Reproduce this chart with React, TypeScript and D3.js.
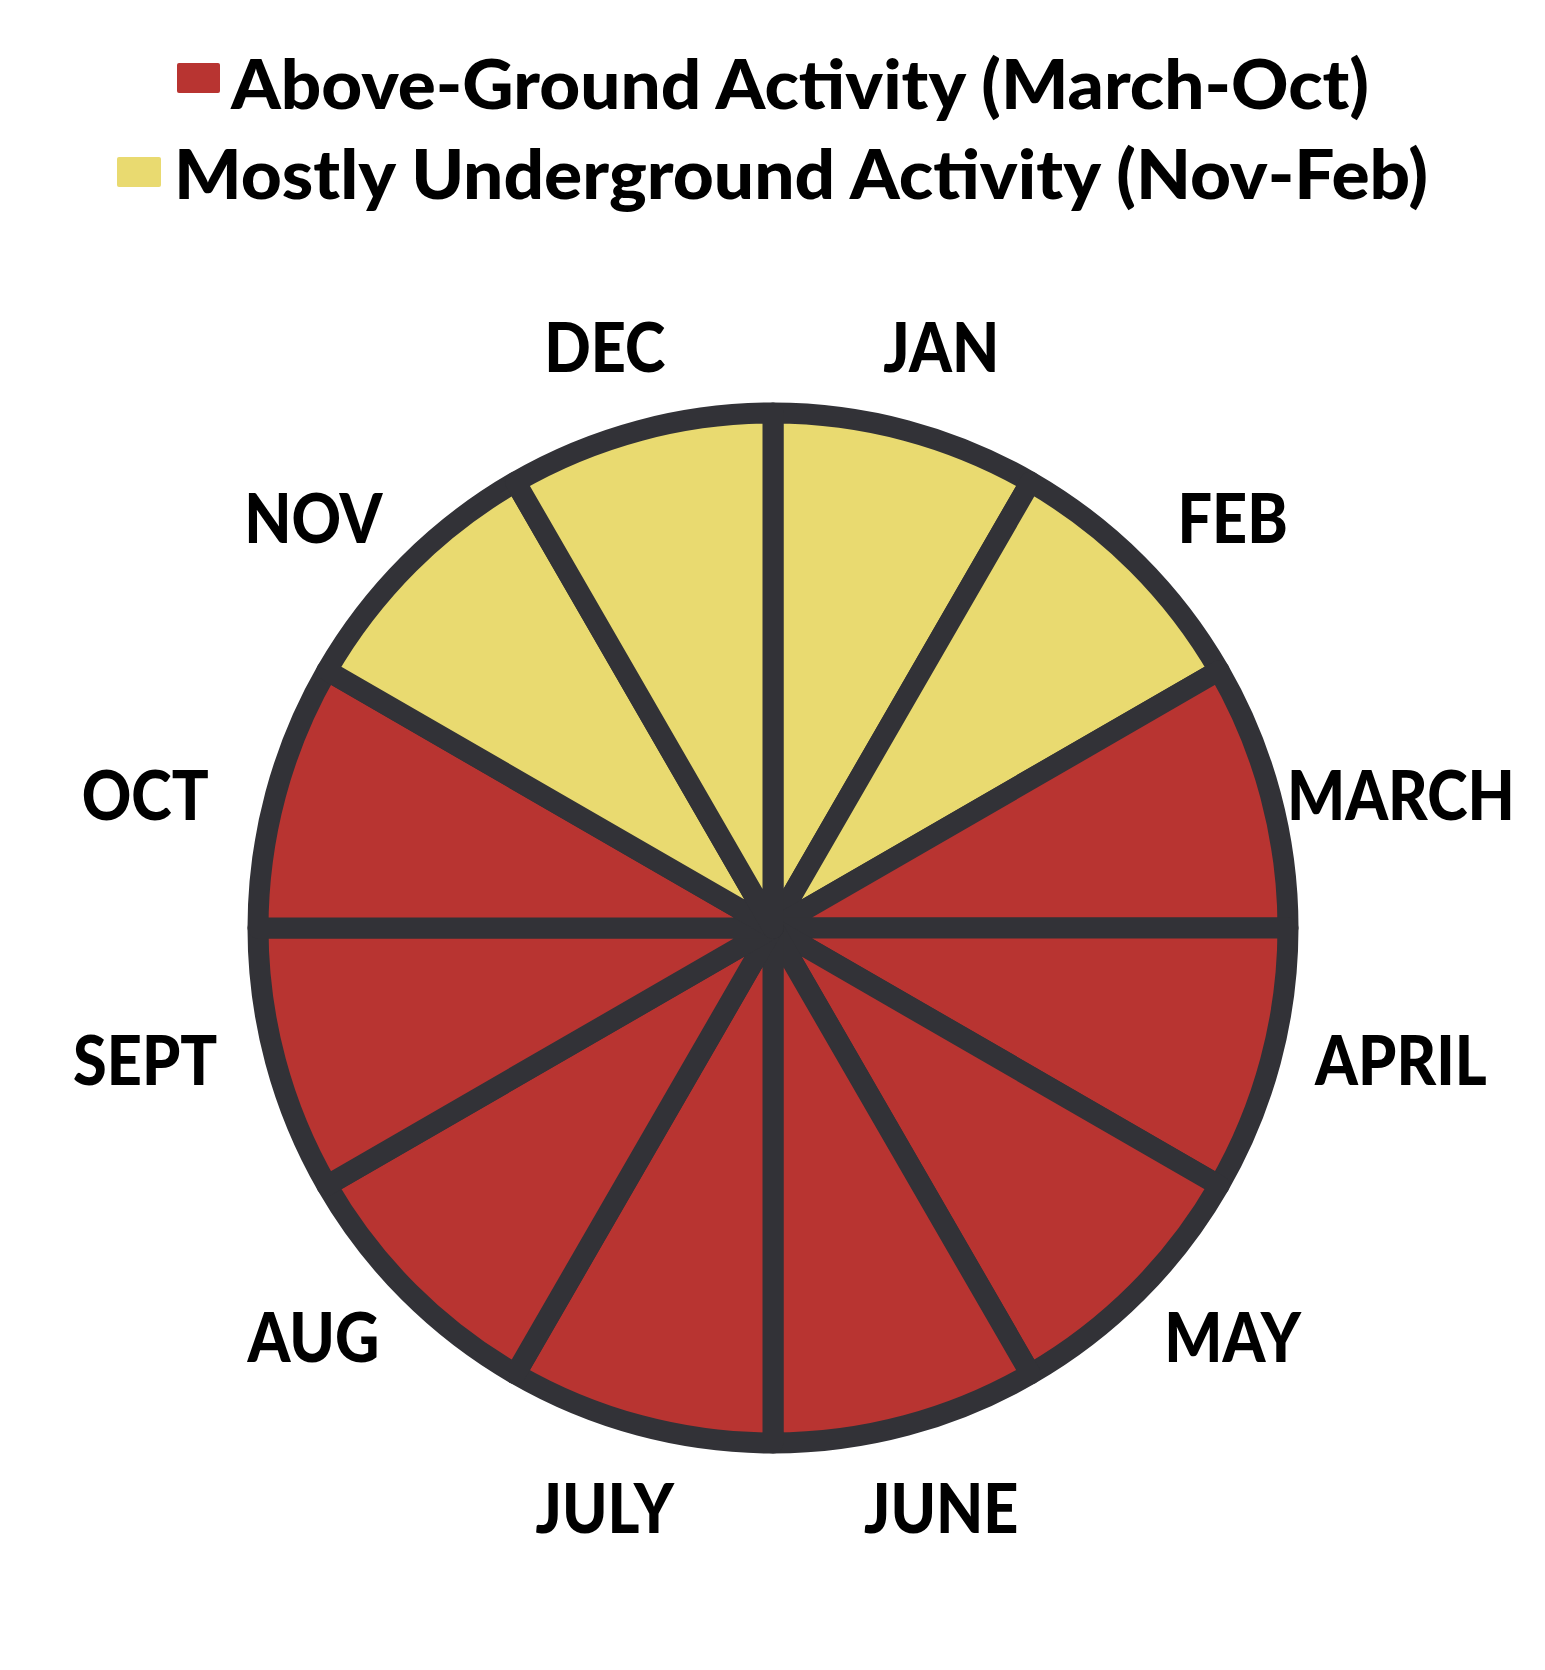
import React, { useEffect, useRef } from 'react';
import * as d3 from 'd3';

// ---- data ----
const months = ['JAN', 'FEB', 'MARCH', 'APRIL', 'MAY', 'JUNE', 'JULY', 'AUG', 'SEPT', 'OCT', 'NOV', 'DEC'];
const monthShare = [1, 1, 1, 1, 1, 1, 1, 1, 1, 1, 1, 1];
const activity = ['under', 'under', 'above', 'above', 'above', 'above', 'above', 'above', 'above', 'above', 'under', 'under'];
const legendKeys = ['above', 'under'];
const legendLabels = ['Above-Ground Activity (March-Oct)', 'Mostly Underground Activity (Nov-Feb)'];

// ---- style ----
const palette: Record<string, string> = { above: '#B83431', under: '#E9DA70' };
const STROKE = '#323237';
const FONT = 'Lato, "Open Sans", sans-serif';

const W = 1545;
const H = 1670;
const CX = 773;
const CY = 928;
const R = 515;
const SW = 21;
const LABEL_RX = 650;
const LABEL_RY = 603;
const LABEL_Y_POW = 1.12;
const FS = 68;
const CAP = 49;
const LABEL_SQUEEZE = 0.9;

export default function App() {
  const ref = useRef<SVGSVGElement | null>(null);

  useEffect(() => {
    const draw = () => {
      const svg = d3.select(ref.current);
      svg.selectAll('*').remove();

      // legend
      const legend = svg.append('g');
      const legendRows = [
        { rx: 177, ry: 63, rw: 43, rh: 30, tx: 231, ty: 109, tl: 1138 },
        { rx: 117, ry: 157, rw: 44, rh: 30, tx: 174, ty: 199, tl: 1254 },
      ];
      legendKeys.forEach((k, i) => {
        const r = legendRows[i];
        legend.append('rect').attr('x', r.rx).attr('y', r.ry).attr('width', r.rw).attr('height', r.rh)
          .attr('rx', 2).attr('fill', palette[k]);
        legend.append('text').attr('x', r.tx).attr('y', r.ty)
          .attr('font-family', FONT).attr('font-weight', 900).attr('font-size', FS)
          .attr('textLength', r.tl).attr('lengthAdjust', 'spacingAndGlyphs')
          .attr('fill', '#000').text(legendLabels[i]);
      });

      // pie
      const arcs = d3.pie<number>().sort(null).value((d) => d)(monthShare);
      const arc = d3.arc<d3.PieArcDatum<number>>().innerRadius(0).outerRadius(R);
      const g = svg.append('g').attr('transform', `translate(${CX},${CY})`);
      g.selectAll('path.slice').data(arcs).join('path')
        .attr('class', 'slice')
        .attr('d', arc as any)
        .attr('fill', (_d, i) => palette[activity[i]])
        .attr('stroke', STROKE)
        .attr('stroke-width', SW)
        .attr('stroke-linejoin', 'round');

      // labels
      g.selectAll('text.month').data(arcs).join('text')
        .attr('class', 'month')
        .attr('transform', (a) => {
          const mid = (a.startAngle + a.endAngle) / 2;
          const x = Math.sin(mid) * LABEL_RX;
          const c = -Math.cos(mid);
          const y = Math.sign(c) * Math.pow(Math.abs(c), LABEL_Y_POW) * LABEL_RY;
          return `translate(${x},${y + CAP / 2}) scale(${LABEL_SQUEEZE},1)`;
        })
        .attr('font-family', FONT).attr('font-weight', 900).attr('font-size', FS)
        .attr('text-anchor', 'middle').attr('fill', '#000')
        .text((_a, i) => months[i]);
    };
    draw();
    if ((document as any).fonts && (document as any).fonts.ready) {
      (document as any).fonts.ready.then(draw);
    }
  }, []);

  return (
    <svg ref={ref} width={W} height={H} viewBox={`0 0 ${W} ${H}`}
      style={{ position: 'absolute', left: 0, top: 0, background: '#fff' }} />
  );
}
